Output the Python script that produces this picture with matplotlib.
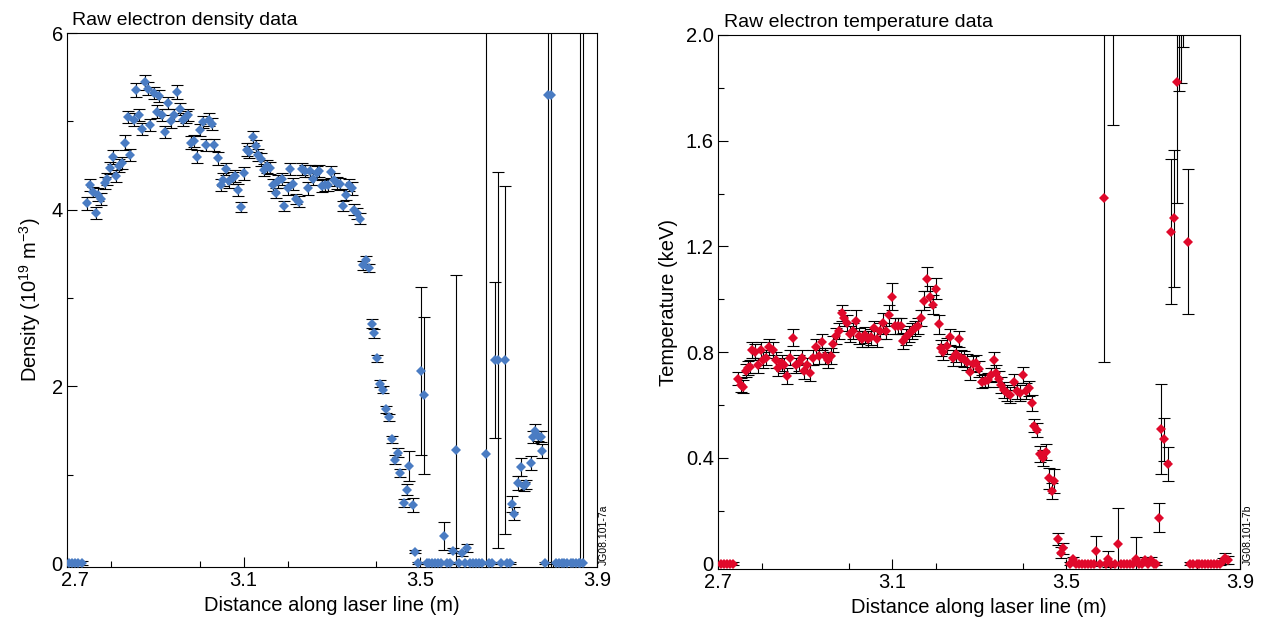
import matplotlib
matplotlib.use("Agg")
import matplotlib.pyplot as plt
import matplotlib.transforms as mtransforms
from matplotlib.ticker import MultipleLocator

plt.rcParams['font.family'] = ['Liberation Sans', 'DejaVu Sans']
plt.rcParams['mathtext.fontset'] = 'custom'
plt.rcParams['mathtext.rm'] = 'Liberation Sans'
plt.rcParams['mathtext.it'] = 'Liberation Sans:italic'

# --- density data (left panel) ---
dens_x = [2.705, 2.712, 2.719, 2.726, 2.733, 2.745, 2.752, 2.758, 2.766, 2.771,
          2.778, 2.786, 2.791, 2.797, 2.805, 2.810, 2.818, 2.824, 2.832, 2.837,
          2.843, 2.852, 2.856, 2.864, 2.870, 2.877, 2.883, 2.889, 2.897, 2.903,
          2.909, 2.916, 2.923, 2.929, 2.936, 2.942, 2.948, 2.956, 2.963, 2.969,
          2.975, 2.980, 2.987, 2.995, 3.001, 3.009, 3.015, 3.021, 3.028, 3.033,
          3.041, 3.048, 3.054, 3.061, 3.067, 3.075, 3.080, 3.087, 3.094, 3.100,
          3.107, 3.113, 3.120, 3.127, 3.133, 3.139, 3.145, 3.152, 3.160, 3.167,
          3.173, 3.178, 3.186, 3.192, 3.200, 3.206, 3.212, 3.218, 3.226, 3.231,
          3.239, 3.245, 3.250, 3.258, 3.265, 3.271, 3.277, 3.284, 3.292, 3.297,
          3.305, 3.312, 3.318, 3.324, 3.331, 3.338, 3.345, 3.350, 3.357, 3.363,
          3.371, 3.377, 3.384, 3.390, 3.396, 3.402, 3.409, 3.415, 3.422, 3.430,
          3.436, 3.443, 3.449, 3.455, 3.463, 3.469, 3.475, 3.483, 3.488, 3.495,
          3.501, 3.508, 3.514, 3.520, 3.527, 3.533, 3.540, 3.547, 3.554, 3.561,
          3.568, 3.575, 3.581, 3.588, 3.594, 3.600, 3.606, 3.612, 3.619, 3.626,
          3.632, 3.639, 3.649, 3.656, 3.662, 3.669, 3.676, 3.682, 3.691, 3.697,
          3.703, 3.707, 3.713, 3.720, 3.728, 3.734, 3.740, 3.750, 3.754, 3.760,
          3.766, 3.772, 3.776, 3.782, 3.790, 3.796, 3.806, 3.813, 3.820, 3.826,
          3.833, 3.840, 3.846, 3.853, 3.859, 3.862, 3.869]
dens_y = [0, 0, 0, 0, 0, 4.07, 4.28, 4.20, 3.96, 4.17,
          4.12, 4.30, 4.35, 4.47, 4.60, 4.38, 4.50, 4.53, 4.76, 5.05,
          4.62, 5.02, 5.35, 5.07, 4.91, 5.44, 5.37, 4.96, 5.32, 5.11,
          5.29, 5.07, 4.88, 5.21, 5.00, 5.07, 5.33, 5.14, 5.02, 5.05,
          5.07, 4.76, 4.78, 4.60, 4.90, 4.99, 4.73, 5.02, 4.97, 4.73,
          4.58, 4.28, 4.34, 4.46, 4.32, 4.36, 4.38, 4.22, 4.03, 4.41,
          4.68, 4.65, 4.82, 4.72, 4.62, 4.57, 4.45, 4.49, 4.47, 4.28,
          4.19, 4.32, 4.35, 4.04, 4.24, 4.46, 4.29, 4.12, 4.09, 4.46,
          4.44, 4.24, 4.44, 4.35, 4.42, 4.44, 4.27, 4.28, 4.28, 4.43,
          4.34, 4.30, 4.29, 4.04, 4.17, 4.28, 4.24, 4.00, 3.96, 3.90,
          3.37, 3.43, 3.34, 2.71, 2.60, 2.32, 2.03, 1.96, 1.74, 1.65,
          1.40, 1.17, 1.25, 1.02, 0.68, 0.83, 1.10, 0.66, 0.13, 0,
          2.17, 1.90, 0, 0, 0, 0, 0, 0, 0.31, 0,
          0, 0.14, 1.28, 0, 0.11, 0, 0.17, 0, 0, 0,
          0, 0, 1.23, 0, 0, 2.30, 2.30, 0, 2.30, 0,
          0, 0.67, 0.56, 0.91, 1.09, 0.87, 0.89, 1.13, 1.43, 1.50,
          1.44, 1.43, 1.27, 0, 5.30, 5.30, 0, 0, 0, 0,
          0, 0, 0, 0, 0, 0, 0]
dens_err = [0.02, 0.02, 0.02, 0.02, 0.02, 0.07, 0.07, 0.06, 0.07, 0.07,
            0.07, 0.07, 0.07, 0.07, 0.08, 0.07, 0.07, 0.07, 0.08, 0.07,
            0.07, 0.07, 0.08, 0.07, 0.07, 0.08, 0.07, 0.07, 0.07, 0.07,
            0.07, 0.07, 0.07, 0.07, 0.07, 0.07, 0.08, 0.07, 0.07, 0.07,
            0.07, 0.07, 0.07, 0.07, 0.07, 0.07, 0.07, 0.07, 0.07, 0.07,
            0.07, 0.07, 0.07, 0.07, 0.07, 0.07, 0.07, 0.07, 0.06, 0.07,
            0.07, 0.07, 0.07, 0.07, 0.07, 0.07, 0.07, 0.07, 0.07, 0.07,
            0.06, 0.07, 0.07, 0.06, 0.07, 0.07, 0.07, 0.06, 0.06, 0.07,
            0.07, 0.07, 0.07, 0.07, 0.07, 0.07, 0.07, 0.07, 0.07, 0.07,
            0.07, 0.07, 0.07, 0.06, 0.06, 0.07, 0.07, 0.06, 0.06, 0.06,
            0.05, 0.05, 0.05, 0.05, 0.05, 0.04, 0.04, 0.04, 0.04, 0.04,
            0.04, 0.05, 0.05, 0.05, 0.05, 0.06, 0.17, 0.08, 0.02, 0.01,
            0.95, 0.89, 0.01, 0.01, 0.01, 0.01, 0.01, 0.01, 0.16, 0.01,
            0.01, 0.03, 1.98, 0.01, 0.03, 0.01, 0.05, 0.01, 0.01, 0.01,
            0.01, 0.01, 8.0, 0.01, 0.01, 0.88, 2.13, 0.01, 1.97, 0.01,
            0.01, 0.09, 0.07, 0.08, 0.10, 0.05, 0.05, 0.08, 0.07, 0.07,
            0.06, 0.06, 0.08, 0.01, 8.0, 8.0, 0.01, 0.01, 0.01, 0.01,
            0.01, 0.01, 0.01, 0.01, 0.01, 8.0, 8.0]

# --- temperature data (right panel) ---
temp_x = [2.707, 2.714, 2.721, 2.728, 2.735, 2.745, 2.752, 2.758, 2.764, 2.770,
          2.774, 2.777, 2.785, 2.791, 2.798, 2.804, 2.810, 2.818, 2.826, 2.833,
          2.839, 2.846, 2.852, 2.859, 2.866, 2.873, 2.879, 2.886, 2.892, 2.898,
          2.905, 2.911, 2.919, 2.925, 2.932, 2.939, 2.946, 2.952, 2.959, 2.965,
          2.971, 2.977, 2.984, 2.990, 2.997, 3.003, 3.011, 3.017, 3.025, 3.032,
          3.038, 3.044, 3.051, 3.059, 3.065, 3.072, 3.079, 3.086, 3.092, 3.099,
          3.107, 3.114, 3.120, 3.126, 3.132, 3.138, 3.145, 3.153, 3.159, 3.167,
          3.173, 3.180, 3.187, 3.194, 3.200, 3.207, 3.213, 3.218, 3.226, 3.233,
          3.240, 3.246, 3.253, 3.259, 3.266, 3.272, 3.279, 3.286, 3.293, 3.300,
          3.306, 3.313, 3.320, 3.327, 3.334, 3.340, 3.345, 3.351, 3.357, 3.364,
          3.371, 3.380, 3.387, 3.394, 3.400, 3.407, 3.415, 3.421, 3.426, 3.434,
          3.440, 3.446, 3.453, 3.461, 3.467, 3.472, 3.481, 3.488, 3.494, 3.509,
          3.517, 3.523, 3.530, 3.537, 3.544, 3.551, 3.557, 3.564, 3.568, 3.578,
          3.587, 3.592, 3.596, 3.603, 3.607, 3.613, 3.620, 3.627, 3.634, 3.640,
          3.647, 3.654, 3.661, 3.668, 3.675, 3.681, 3.688, 3.695, 3.702, 3.708,
          3.714, 3.718, 3.725, 3.735, 3.741, 3.749, 3.754, 3.759, 3.764, 3.770,
          3.781, 3.786, 3.793, 3.800, 3.806, 3.813, 3.820, 3.827, 3.834, 3.840,
          3.847, 3.854, 3.860, 3.866, 3.872]
temp_y = [0, 0, 0, 0, 0, 0.70, 0.676, 0.67, 0.73, 0.74,
          0.745, 0.81, 0.80, 0.75, 0.81, 0.77, 0.78, 0.82, 0.81, 0.77,
          0.74, 0.76, 0.75, 0.71, 0.78, 0.855, 0.75, 0.76, 0.78, 0.73,
          0.75, 0.72, 0.78, 0.82, 0.785, 0.84, 0.785, 0.77, 0.785, 0.83,
          0.86, 0.88, 0.95, 0.93, 0.91, 0.87, 0.88, 0.92, 0.86, 0.85,
          0.865, 0.85, 0.856, 0.89, 0.85, 0.88, 0.91, 0.88, 0.94, 1.01,
          0.90, 0.90, 0.90, 0.843, 0.856, 0.87, 0.88, 0.89, 0.90, 0.93,
          0.995, 1.077, 1.01, 0.98, 1.04, 0.905, 0.815, 0.80, 0.823, 0.856,
          0.777, 0.793, 0.85, 0.777, 0.774, 0.764, 0.726, 0.755, 0.758, 0.735,
          0.688, 0.692, 0.695, 0.714, 0.77, 0.722, 0.70, 0.676, 0.657, 0.647,
          0.638, 0.688, 0.653, 0.647, 0.714, 0.653, 0.663, 0.607, 0.522, 0.506,
          0.415, 0.399, 0.424, 0.323, 0.276, 0.314, 0.093, 0.042, 0.058, 0,
          0.017, 0, 0, 0, 0, 0, 0, 0, 0.048, 0,
          1.382, 0, 0.017, 0, 2.40, 0, 0.075, 0, 0, 0,
          0, 0, 0.017, 0, 0, 0.015, 0, 0.015, 0, 0,
          0.174, 0.51, 0.47, 0.376, 1.256, 1.306, 1.823, 2.15, 2.10, 2.10,
          1.218, 0, 0, 0, 0, 0, 0, 0, 0, 0,
          0, 0, 0.01, 0.02, 0.015]
temp_err = [0.005, 0.005, 0.005, 0.005, 0.005, 0.025, 0.025, 0.025, 0.025, 0.025,
            0.025, 0.03, 0.03, 0.03, 0.03, 0.03, 0.03, 0.03, 0.03, 0.03,
            0.03, 0.03, 0.03, 0.03, 0.03, 0.033, 0.03, 0.03, 0.03, 0.03,
            0.03, 0.03, 0.03, 0.03, 0.03, 0.03, 0.03, 0.03, 0.03, 0.03,
            0.03, 0.03, 0.03, 0.03, 0.03, 0.03, 0.03, 0.04, 0.03, 0.03,
            0.03, 0.03, 0.03, 0.03, 0.03, 0.03, 0.04, 0.03, 0.04, 0.05,
            0.03, 0.03, 0.03, 0.03, 0.03, 0.03, 0.03, 0.03, 0.03, 0.03,
            0.035, 0.044, 0.04, 0.035, 0.04, 0.035, 0.03, 0.03, 0.03, 0.03,
            0.03, 0.03, 0.03, 0.03, 0.03, 0.03, 0.03, 0.03, 0.03, 0.03,
            0.025, 0.025, 0.025, 0.025, 0.03, 0.03, 0.03, 0.03, 0.03, 0.03,
            0.03, 0.03, 0.03, 0.03, 0.03, 0.03, 0.03, 0.03, 0.025, 0.025,
            0.03, 0.03, 0.03, 0.04, 0.03, 0.045, 0.022, 0.02, 0.02, 0.005,
            0.01, 0.005, 0.005, 0.005, 0.005, 0.005, 0.005, 0.005, 0.058, 0.005,
            0.62, 0.005, 0.03, 0.005, 0.74, 0.005, 0.134, 0.005, 0.005, 0.005,
            0.005, 0.005, 0.085, 0.005, 0.005, 0.01, 0.005, 0.01, 0.005, 0.005,
            0.055, 0.17, 0.08, 0.065, 0.275, 0.26, 0.46, 0.36, 0.28, 0.145,
            0.274, 0.005, 0.005, 0.005, 0.005, 0.005, 0.005, 0.005, 0.005, 0.005,
            0.005, 0.005, 0.01, 0.02, 0.015]

fig = plt.figure(figsize=(12.76, 6.25), dpi=100)
ax1 = fig.add_axes([0.0525, 0.0928, 0.4154, 0.8544])
ax2 = fig.add_axes([0.5627, 0.0896, 0.4091, 0.8544])


def style_axis(ax):
    ax.set_xlim(2.7, 3.9)
    ax.set_xticks([2.7, 3.1, 3.5, 3.9])
    ax.set_xticklabels(['2.7', '3.1', '3.5', '3.9'])
    ax.xaxis.set_minor_locator(MultipleLocator(0.2))
    ax.tick_params(which='both', direction='in', top=False, right=False,
                   labelsize=14.5, width=0.8, color='black')
    ax.tick_params(which='major', length=7, pad=3)
    ax.tick_params(which='minor', length=4)
    for s in ax.spines.values():
        s.set_linewidth(0.8)
    ax.set_xlabel("Distance along laser line (m)", fontsize=14.5, labelpad=4)


# left: density
ax1.errorbar(dens_x, dens_y, yerr=dens_err, fmt='none', ecolor='black',
             elinewidth=0.8, capsize=4.5, capthick=0.8, zorder=2)
ax1.plot(dens_x, dens_y, 'D', color='#4a7cc3', markersize=4.6,
         markeredgewidth=0, zorder=3)
style_axis(ax1)
ax1.set_ylim(-0.045, 6)
ax1.set_yticks([0, 2, 4, 6])
ax1.set_yticklabels(['0', '2', '4', '6'])
ax1.yaxis.set_minor_locator(MultipleLocator(1))
ax1.set_ylabel("Density (10$^{19}$ m$^{-3}$)", fontsize=14.5, labelpad=6)
ax1.text(0.01, 1.008, "Raw electron density data", transform=ax1.transAxes,
         fontsize=14, ha='left', va='bottom')

# first x label sits a little to the right, clear of the "0"
shift = mtransforms.ScaledTranslation(8 / 100, 0, fig.dpi_scale_trans)
lab = ax1.get_xticklabels()[0]
lab.set_transform(lab.get_transform() + shift)

# right: temperature
ax2.errorbar(temp_x, temp_y, yerr=temp_err, fmt='none', ecolor='black',
             elinewidth=0.8, capsize=4.5, capthick=0.8, zorder=2)
ax2.plot(temp_x, temp_y, 'D', color='#e0092b', markersize=4.6,
         markeredgewidth=0, zorder=3)
style_axis(ax2)
ax2.set_ylim(-0.02, 2.0)
ax2.set_yticks([0, 0.4, 0.8, 1.2, 1.6, 2.0])
ax2.set_yticklabels(['0', '0.4', '0.8', '1.2', '1.6', '2.0'])
ax2.yaxis.set_minor_locator(MultipleLocator(0.2))
ax2.set_ylabel("Temperature (keV)", fontsize=14.5, labelpad=6)
ax2.text(0.012, 1.008, "Raw electron temperature data", transform=ax2.transAxes,
         fontsize=14, ha='left', va='bottom')

fig.text(0.4734, 0.096, "JG08.101-7a", rotation=90, fontsize=7.5,
         ha='center', va='bottom')
fig.text(0.978, 0.096, "JG08.101-7b", rotation=90, fontsize=7.5,
         ha='center', va='bottom')

fig.savefig("out.png", dpi=100)
